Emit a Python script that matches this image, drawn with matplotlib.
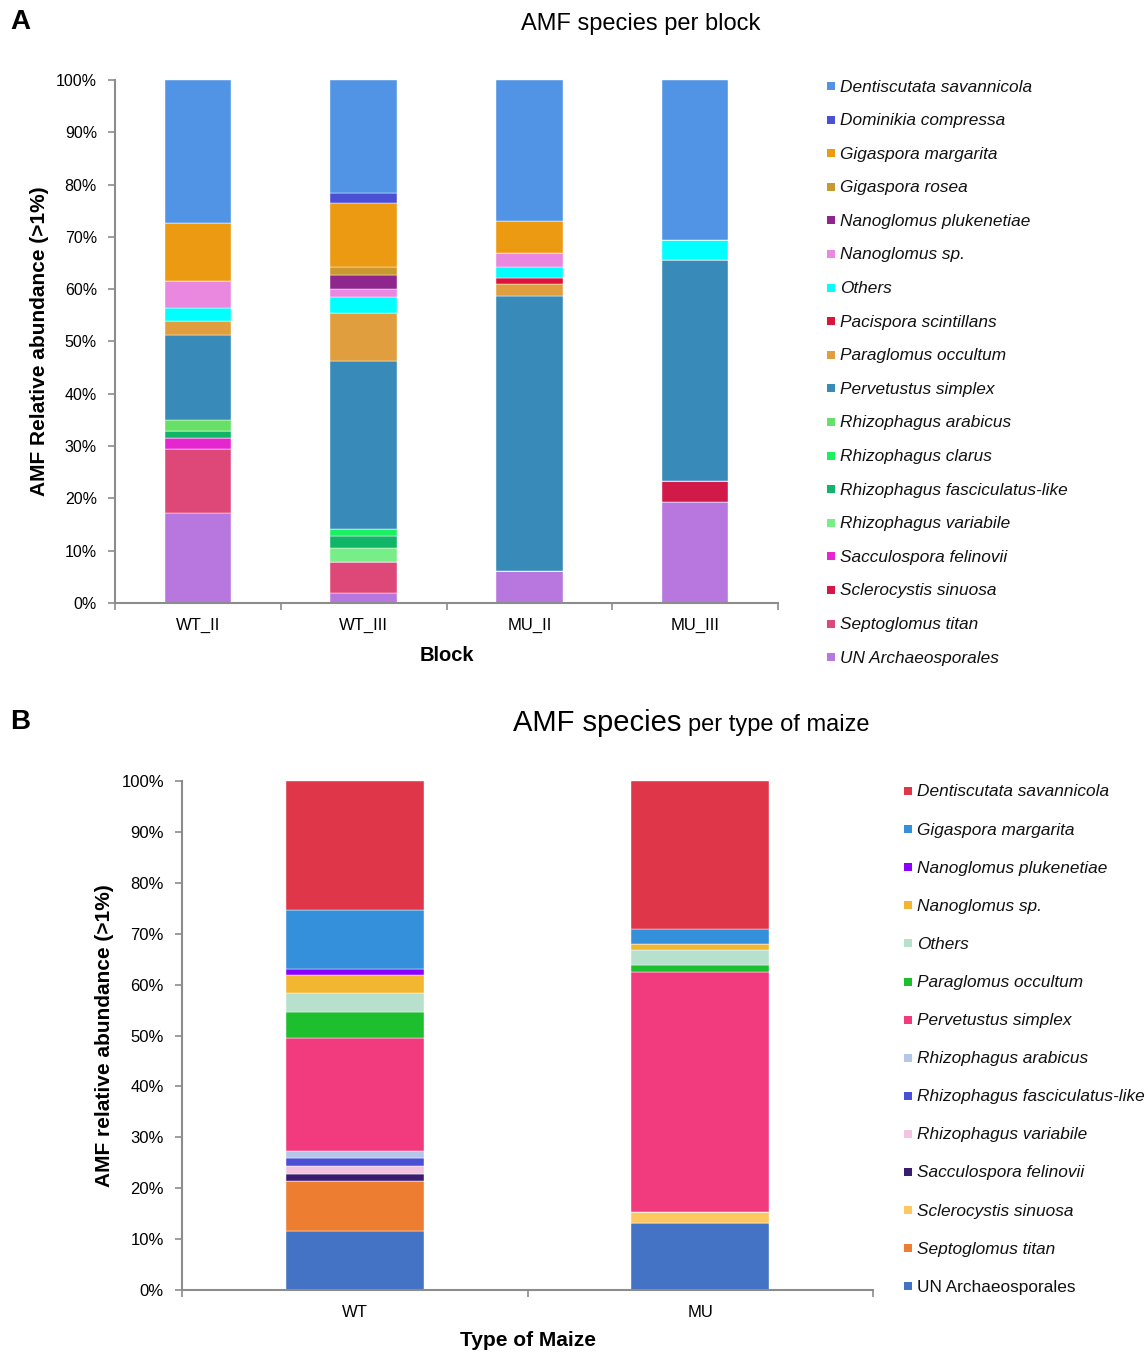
import matplotlib
matplotlib.use("Agg")
import matplotlib.pyplot as plt
from matplotlib.patches import Rectangle
from matplotlib.ticker import PercentFormatter
import numpy as np

plt.rcParams['font.family'] = ['Liberation Sans', 'DejaVu Sans']

# ---- panel A: species per block (legend order, top to bottom) ----
blocks = ['WT_II', 'WT_III', 'MU_II', 'MU_III']
species_a = ['Dentiscutata savannicola', 'Dominikia compressa', 'Gigaspora margarita',
             'Gigaspora rosea', 'Nanoglomus plukenetiae', 'Nanoglomus sp.', 'Others',
             'Pacispora scintillans', 'Paraglomus occultum', 'Pervetustus simplex',
             'Rhizophagus arabicus', 'Rhizophagus clarus', 'Rhizophagus fasciculatus-like',
             'Rhizophagus variabile', 'Sacculospora felinovii', 'Sclerocystis sinuosa',
             'Septoglomus titan', 'UN Archaeosporales']
values_a = [
    [27.3, 21.6, 27.0, 30.5],
    [0.0, 1.9, 0.0, 0.0],
    [11.1, 12.3, 6.1, 0.0],
    [0.0, 1.5, 0.0, 0.0],
    [0.0, 2.7, 0.0, 0.0],
    [5.1, 1.4, 2.7, 0.0],
    [2.6, 3.1, 2.1, 4.0],
    [0.0, 0.0, 1.1, 0.0],
    [2.7, 9.2, 2.3, 0.0],
    [16.3, 32.2, 52.6, 42.2],
    [2.0, 0.0, 0.0, 0.0],
    [0.0, 1.3, 0.0, 0.0],
    [1.3, 2.2, 0.0, 0.0],
    [0.0, 2.8, 0.0, 0.0],
    [2.2, 0.0, 0.0, 0.0],
    [0.0, 0.0, 0.0, 4.0],
    [12.2, 5.8, 0.0, 0.0],
    [17.2, 2.0, 6.1, 19.3],
]
colors_a = ['#5194E5', '#4B4FD4', '#EC9A12', '#C9982E', '#8E268E', '#EA88E0', '#00FFFF',
            '#DC143C', '#E09E3E', '#388BB8', '#66E066', '#1AF060', '#10B567', '#78EE88',
            '#E526D0', '#D11A47', '#DE4879', '#B876DF']

# ---- panel B: species per type of maize ----
maize = ['WT', 'MU']
species_b = ['Dentiscutata savannicola', 'Gigaspora margarita', 'Nanoglomus plukenetiae',
             'Nanoglomus sp.', 'Others', 'Paraglomus occultum', 'Pervetustus simplex',
             'Rhizophagus arabicus', 'Rhizophagus fasciculatus-like', 'Rhizophagus variabile',
             'Sacculospora felinovii', 'Sclerocystis sinuosa', 'Septoglomus titan',
             'UN Archaeosporales']
values_b = [
    [25.4, 29.1],
    [11.5, 2.9],
    [1.2, 0.0],
    [3.6, 1.3],
    [3.7, 2.8],
    [5.0, 1.5],
    [22.2, 47.1],
    [1.5, 0.0],
    [1.5, 0.0],
    [1.6, 0.0],
    [1.4, 0.0],
    [0.0, 2.1],
    [9.9, 0.0],
    [11.5, 13.2],
]
colors_b = ['#E03649', '#3490DB', '#8B00FF', '#F2B630', '#B7E1CD', '#1DBF2F', '#F23B7E',
            '#B4C7E7', '#4A50D6', '#F2C4E0', '#381C70', '#FEC760', '#ED7D31', '#4472C4']

W, H = 1148, 1354
fig = plt.figure(figsize=(W / 100, H / 100), dpi=100)


def px_axes(left, top, right, bottom):
    return fig.add_axes([left / W, 1 - bottom / H, (right - left) / W, (bottom - top) / H])


def stacked(ax, cats, species, values, colors):
    x = np.arange(len(cats))
    base = np.zeros(len(cats))
    # stack from the last legend entry upward
    for name, vals, col in reversed(list(zip(species, values, colors))):
        vals = np.array(vals) / 100.0
        ax.bar(x, vals, 0.40, bottom=base, color=col, edgecolor='white', linewidth=0.3)
        base += vals
    ax.set_xlim(-0.5, len(cats) - 0.5)
    ax.set_ylim(0, 1)
    ax.set_yticks(np.arange(0, 1.01, 0.1))
    ax.yaxis.set_major_formatter(PercentFormatter(1.0, decimals=0))
    ax.set_xticks(x)
    ax.set_xticklabels(cats)
    ax.set_xticks(np.arange(-0.5, len(cats), 1.0), minor=True)
    ax.tick_params(axis='x', which='major', length=0, pad=11, labelsize=12)
    ax.tick_params(axis='x', which='minor', length=5, width=1.2, color='#8C8C8C')
    ax.tick_params(axis='y', length=5, width=1.2, color='#8C8C8C', labelsize=11.5, pad=8)
    for s in ['top', 'right']:
        ax.spines[s].set_visible(False)
    for s in ['left', 'bottom']:
        ax.spines[s].set_color('#8C8C8C')
        ax.spines[s].set_linewidth(1.5)


def legend(species, colors, x_box, y0, step, italic_all=True):
    for i, (name, col) in enumerate(zip(species, colors)):
        y = y0 + i * step
        fig.add_artist(Rectangle(((x_box) / W, 1 - (y + 4) / H), 8 / W, 8 / H,
                                 transform=fig.transFigure, color=col, lw=0))
        style = 'italic' if (italic_all or name != 'UN Archaeosporales') else 'normal'
        fig.text((x_box + 13) / W, 1 - (y + 1) / H, name, fontsize=12.4, style=style,
                 va='center', ha='left', color='#111111')


# panel A
ax1 = px_axes(115, 80, 778, 603)
stacked(ax1, blocks, species_a, values_a, colors_a)
ax1.set_xlabel('Block', fontsize=14.5, fontweight='bold', labelpad=9)
ax1.set_ylabel('AMF Relative abundance (>1%)', fontsize=15, fontweight='bold', labelpad=5)
legend(species_a, colors_a, 827, 86, 33.6, italic_all=True)
fig.text(641 / W, 1 - 30 / H, 'AMF species per block', fontsize=17, ha='center', va='baseline')
fig.text(10 / W, 1 - 29 / H, 'A', fontsize=20, fontweight='bold', va='baseline')

# panel B
ax2 = px_axes(182, 781, 873, 1290)
stacked(ax2, maize, species_b, values_b, colors_b)
ax2.tick_params(axis='y', labelsize=12)
ax2.set_xlabel('Type of Maize', fontsize=15, fontweight='bold', labelpad=8)
ax2.set_ylabel('AMF relative abundance (>1%)', fontsize=15, fontweight='bold', labelpad=5)
legend(species_b, colors_b, 904, 791, 38.1, italic_all=False)
fig.text(681 / W, 1 - 731 / H, 'AMF species', fontsize=21, ha='right', va='baseline')
fig.text(688 / W, 1 - 731 / H, 'per type of maize', fontsize=17, ha='left', va='baseline')
fig.text(10 / W, 1 - 729 / H, 'B', fontsize=20, fontweight='bold', va='baseline')

fig.savefig('out.png', dpi=100)
